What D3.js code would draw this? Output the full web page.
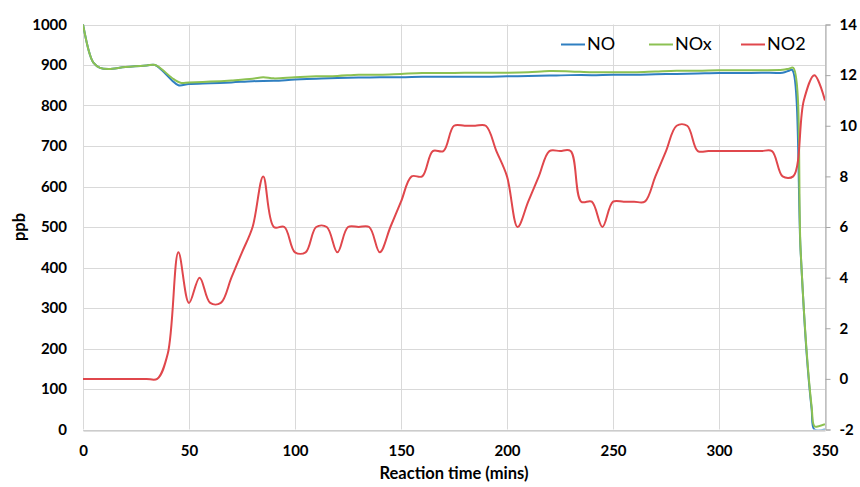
<!DOCTYPE html>
<html>
<head>
<meta charset="utf-8">
<script src="https://cdn.jsdelivr.net/npm/d3@7"></script>
<style>
  body { margin: 0; background: #fff; }
  svg text { font-family: Lato, "Open Sans", sans-serif; }
</style>
</head>
<body>
<div id="chart"></div>
<script>
// values
const noTime = [0, 3, 5, 8, 12, 20, 30, 34, 37, 42, 45, 50, 60, 70, 80, 90, 100, 110, 120, 130, 140, 150, 160, 170, 180, 190, 200, 210, 220, 230, 240, 250, 260, 270, 280, 290, 300, 310, 320, 330, 333, 334.5, 338.5, 341.3, 343.7, 345, 350];
const noValues = [1000, 930, 905, 893, 890, 895, 899, 900, 888, 862, 850, 853, 855, 857, 860, 861, 864, 866, 868, 869, 870, 870, 871, 871, 871, 871, 872, 873, 874, 875, 875, 876, 876, 877, 878, 879, 880, 880, 881, 881, 886, 888, 440, 190, 50, 0, 0];

const noxTime = [0, 3, 5, 8, 12, 20, 30, 34, 37, 42, 46, 50, 60, 70, 80, 85, 90, 100, 110, 120, 130, 140, 150, 160, 170, 180, 190, 200, 210, 220, 230, 240, 250, 260, 270, 280, 290, 300, 310, 320, 330, 333, 335, 338.5, 341.3, 343.7, 345, 347, 350];
const noxValues = [1000, 930, 905, 893, 890, 895, 899, 900, 890, 868, 856, 857, 859, 862, 866, 870, 867, 870, 872, 873, 876, 876, 878, 880, 880, 881, 881, 881, 882, 885, 884, 882, 882, 882, 884, 886, 886, 887, 887, 887, 888, 891, 893, 443, 196, 56, 8, 8, 13];

const no2Time = [0, 5, 10, 15, 20, 25, 30, 35, 40, 45, 50, 55, 60, 65, 70, 75, 80, 85, 90, 95, 100, 105, 110, 115, 120, 125, 130, 135, 140, 145, 150, 155, 160, 165, 170, 175, 180, 185, 190, 195, 200, 205, 210, 215, 220, 225, 230, 235, 240, 245, 250, 255, 260, 265, 270, 275, 280, 285, 290, 295, 300, 305, 310, 315, 320, 325, 330, 335, 340, 345, 350];
const no2Values = [0, 0, 0, 0, 0, 0, 0, 0, 1, 5, 3, 4, 3, 3, 4, 5, 6, 8, 6, 6, 5, 5, 6, 6, 5, 6, 6, 6, 5, 6, 7, 8, 8, 9, 9, 10, 10, 10, 10, 9, 8, 6, 7, 8, 9, 9, 9, 7, 7, 6, 7, 7, 7, 7, 8, 9, 10, 10, 9, 9, 9, 9, 9, 9, 9, 9, 8, 8, 11, 12, 11];

const seriesNames = ["NO", "NOx", "NO2"];
const seriesColors = ["#2f7fc1", "#8cc152", "#e0474c"];

const xTicks = [0, 50, 100, 150, 200, 250, 300, 350];
const leftTicks = [0, 100, 200, 300, 400, 500, 600, 700, 800, 900, 1000];
const rightTicks = [-2, 0, 2, 4, 6, 8, 10, 12, 14];

const width = 860, height = 487;
const plot = { left: 83, right: 825, top: 24.5, bottom: 429.5 };

const svg = d3.select("#chart").append("svg")
    .attr("width", width)
    .attr("height", height);

const x = d3.scaleLinear().domain([0, 350]).range([plot.left, plot.right]);
const yL = d3.scaleLinear().domain([0, 1000]).range([plot.bottom, plot.top]);
const yR = d3.scaleLinear().domain([-2, 14]).range([plot.bottom, plot.top]);

const plain = d => String(d);

// gridlines
svg.append("g")
    .selectAll("line.h")
    .data(leftTicks)
    .join("line")
    .attr("x1", plot.left).attr("x2", plot.right)
    .attr("y1", d => Math.round(yL(d)) + 0.5).attr("y2", d => Math.round(yL(d)) + 0.5)
    .attr("stroke", "#d9d9d9");

svg.append("g")
    .selectAll("line.v")
    .data(xTicks)
    .join("line")
    .attr("x1", d => Math.round(x(d)) + 0.5).attr("x2", d => Math.round(x(d)) + 0.5)
    .attr("y1", plot.top).attr("y2", plot.bottom)
    .attr("stroke", "#d9d9d9");

// axes
const xAxis = svg.append("g")
    .attr("transform", `translate(0,${Math.round(plot.bottom) + 0.5})`)
    .call(d3.axisBottom(x).tickValues(xTicks).tickFormat(plain).tickSize(0).tickPadding(15));

const leftAxis = svg.append("g")
    .attr("transform", `translate(${plot.left},0)`)
    .call(d3.axisLeft(yL).tickValues(leftTicks).tickFormat(plain).tickSize(0).tickPadding(16));

const rightAxis = svg.append("g")
    .attr("transform", `translate(${Math.round(plot.right) + 0.5},0)`)
    .call(d3.axisRight(yR).tickValues(rightTicks).tickFormat(plain).tickSize(5).tickPadding(9));

[xAxis, leftAxis, rightAxis].forEach(g => {
    g.selectAll("text")
        .style("font-size", "15px")
        .style("font-weight", "bold")
        .attr("fill", "#000");
    g.select(".domain").attr("stroke", "#bfbfbf");
    g.selectAll(".tick line").attr("stroke", "#a6a6a6");
});
leftAxis.select(".domain").remove();
rightAxis.select(".domain").attr("stroke", "#a6a6a6");

// axis titles
svg.append("text")
    .attr("x", 454)
    .attr("y", 479)
    .attr("text-anchor", "middle")
    .style("font-size", "16.5px")
    .style("font-weight", "bold")
    .text("Reaction time (mins)");

svg.append("text")
    .attr("transform", "translate(25,227) rotate(-90)")
    .attr("text-anchor", "middle")
    .style("font-size", "16.5px")
    .style("font-weight", "bold")
    .text("ppb");

// clip
svg.append("clipPath").attr("id", "clip")
    .append("rect")
    .attr("x", plot.left).attr("y", plot.top - 4)
    .attr("width", plot.right - plot.left).attr("height", plot.bottom - plot.top + 4);

const lines = svg.append("g").attr("clip-path", "url(#clip)");

const curve = d3.curveCatmullRom.alpha(0.5);

const lineLeft = d3.line()
    .x(d => x(d[0]))
    .y(d => yL(d[1]))
    .curve(curve);

const lineRight = d3.line()
    .x(d => x(d[0]))
    .y(d => yR(d[1]))
    .curve(curve);

lines.append("path")
    .datum(d3.zip(noTime, noValues))
    .attr("d", lineLeft)
    .attr("fill", "none")
    .attr("stroke", seriesColors[0])
    .attr("stroke-width", 2);

lines.append("path")
    .datum(d3.zip(noxTime, noxValues))
    .attr("d", lineLeft)
    .attr("fill", "none")
    .attr("stroke", seriesColors[1])
    .attr("stroke-width", 2);

lines.append("path")
    .datum(d3.zip(no2Time, no2Values))
    .attr("d", lineRight)
    .attr("fill", "none")
    .attr("stroke", seriesColors[2])
    .attr("stroke-width", 2);

// legend
const legendX = [561, 649, 741];
const legend = svg.append("g");
seriesNames.forEach((name, i) => {
    legend.append("line")
        .attr("x1", legendX[i]).attr("x2", legendX[i] + 24)
        .attr("y1", 44.5).attr("y2", 44.5)
        .attr("stroke", seriesColors[i])
        .attr("stroke-width", 2);
    legend.append("text")
        .attr("x", legendX[i] + 26)
        .attr("y", 44)
        .attr("dy", "0.35em")
        .style("font-size", "18px")
        .text(name);
});
</script>
</body>
</html>
